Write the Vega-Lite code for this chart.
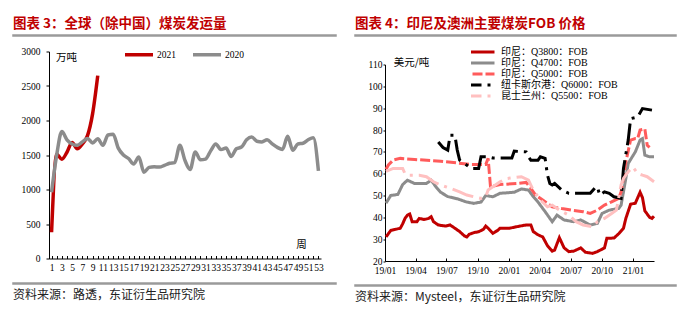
{
  "$schema": "https://vega.github.io/schema/vega-lite/v6.json",
  "background": "white",
  "padding": {"left": 12, "top": 15, "right": 0, "bottom": 0},
  "config": {
    "view": {"stroke": null},
    "font": "Liberation Serif",
    "axis": {"labelFont": "Liberation Serif", "labelFontSize": 9.5, "labelColor": "#000", "domainColor": "#000", "tickColor": "#000", "grid": false, "titleColor": "#000", "titleFontWeight": "normal"},
    "legend": {"labelFont": "Liberation Serif, Noto Sans CJK SC", "labelColor": "#000", "labelFontSize": 9.5},
    "title": {"anchor": "start", "frame": "group"}
  },
  "resolve": {"scale": {"color": "independent", "strokeDash": "independent", "x": "independent", "y": "independent"}, "legend": {"color": "independent", "strokeDash": "independent"}},
  "hconcat": [
    {
      "spacing": 9.5,
      "resolve": {"scale": {"color": "independent"}, "legend": {"color": "independent"}},
      "vconcat": [
        {
          "width": 323, "height": 1,
          "view": {"stroke": "#9a9a9a", "strokeWidth": 1.5},
          "title": {"text": "图表 3：全球（除中国）煤炭发运量", "anchor": "start", "offset": 5, "fontSize": 13.5, "font": "Noto Sans CJK SC", "fontWeight": "bold", "color": "#C00000"},
          "data": {"values": []},
          "mark": {"type": "text", "text": ""}
        },
        {
          "spacing": 5,
          "resolve": {"scale": {"color": "independent"}, "legend": {"color": "independent"}},
          "hconcat": [
            {"width": 1, "height": 1, "data": {"values": []}, "mark": {"type": "text", "text": ""}},
            {
              "width": 272, "height": 207,
              "data": {"values": [
                {"week": 1, "year": "2021", "v": 380}, {"week": 2, "year": "2021", "v": 1510}, {"week": 3, "year": "2021", "v": 1440}, {"week": 4, "year": "2021", "v": 1540}, {"week": 5, "year": "2021", "v": 1680}, {"week": 6, "year": "2021", "v": 1590}, {"week": 7, "year": "2021", "v": 1660}, {"week": 8, "year": "2021", "v": 1780}, {"week": 9, "year": "2021", "v": 2100}, {"week": 10, "year": "2021", "v": 2650},
                {"week": 1, "year": "2020", "v": 960}, {"week": 2, "year": "2020", "v": 1500}, {"week": 3, "year": "2020", "v": 1840}, {"week": 4, "year": "2020", "v": 1720}, {"week": 5, "year": "2020", "v": 1660}, {"week": 6, "year": "2020", "v": 1640}, {"week": 7, "year": "2020", "v": 1690}, {"week": 8, "year": "2020", "v": 1740}, {"week": 9, "year": "2020", "v": 1675}, {"week": 10, "year": "2020", "v": 1735},
                {"week": 11, "year": "2020", "v": 1640}, {"week": 12, "year": "2020", "v": 1790}, {"week": 13, "year": "2020", "v": 1800}, {"week": 14, "year": "2020", "v": 1600}, {"week": 15, "year": "2020", "v": 1500}, {"week": 16, "year": "2020", "v": 1450}, {"week": 17, "year": "2020", "v": 1370}, {"week": 18, "year": "2020", "v": 1470}, {"week": 19, "year": "2020", "v": 1250}, {"week": 20, "year": "2020", "v": 1320},
                {"week": 21, "year": "2020", "v": 1330}, {"week": 22, "year": "2020", "v": 1325}, {"week": 23, "year": "2020", "v": 1350}, {"week": 24, "year": "2020", "v": 1380}, {"week": 25, "year": "2020", "v": 1390}, {"week": 26, "year": "2020", "v": 1640}, {"week": 27, "year": "2020", "v": 1420}, {"week": 28, "year": "2020", "v": 1290}, {"week": 29, "year": "2020", "v": 1545}, {"week": 30, "year": "2020", "v": 1430},
                {"week": 31, "year": "2020", "v": 1440}, {"week": 32, "year": "2020", "v": 1560}, {"week": 33, "year": "2020", "v": 1660}, {"week": 34, "year": "2020", "v": 1580}, {"week": 35, "year": "2020", "v": 1600}, {"week": 36, "year": "2020", "v": 1480}, {"week": 37, "year": "2020", "v": 1590}, {"week": 38, "year": "2020", "v": 1615}, {"week": 39, "year": "2020", "v": 1720}, {"week": 40, "year": "2020", "v": 1760},
                {"week": 41, "year": "2020", "v": 1700}, {"week": 42, "year": "2020", "v": 1690}, {"week": 43, "year": "2020", "v": 1720}, {"week": 44, "year": "2020", "v": 1660}, {"week": 45, "year": "2020", "v": 1610}, {"week": 46, "year": "2020", "v": 1580}, {"week": 47, "year": "2020", "v": 1770}, {"week": 48, "year": "2020", "v": 1570}, {"week": 49, "year": "2020", "v": 1660}, {"week": 50, "year": "2020", "v": 1670},
                {"week": 51, "year": "2020", "v": 1720}, {"week": 52, "year": "2020", "v": 1750}, {"week": 53, "year": "2020", "v": 1270}
              ]},
              "mark": {"type": "line", "interpolate": "monotone", "strokeWidth": 3.5},
              "encoding": {
                "x": {"field": "week", "type": "ordinal", "scale": {"type": "point", "padding": 0.5},
                  "axis": {"title": "周", "titleX": 252, "titleY": -14, "titleFont": "Noto Sans CJK SC", "titleFontSize": 10.5, "titleAlign": "center", "titleBaseline": "middle", "labelAngle": 0, "labelOverlap": false, "labelExpr": "datum.value % 2 == 1 ? datum.label : ''", "tickSize": -3, "labelPadding": 7}},
                "y": {"field": "v", "type": "quantitative", "scale": {"domain": [0, 3000]},
                  "axis": {"values": [0, 500, 1000, 1500, 2000, 2500, 3000], "format": "d", "title": "万吨", "titleAngle": 0, "titleX": 17, "titleY": 6, "titleFont": "Noto Sans CJK SC", "titleFontSize": 10.5, "titleAlign": "center", "titleBaseline": "middle", "tickSize": 3, "labelPadding": 6, "minExtent": 30}},
                "color": {"field": "year", "type": "nominal", "scale": {"domain": ["2021", "2020"], "range": ["#C00000", "#8C8C8C"]},
                  "legend": {"orient": "none", "legendX": 84.5, "legendY": -2.5, "direction": "horizontal", "title": null, "symbolType": "M-4,0H4", "symbolSize": 49, "symbolStrokeWidth": 3.5, "labelOffset": 12.5, "columnPadding": 9}}
              }
            }
          ]
        },
        {
          "width": 323, "height": 1,
          "view": {"stroke": "#9a9a9a", "strokeWidth": 1.5},
          "title": {"text": "资料来源：路透，东证衍生品研究院", "orient": "bottom", "anchor": "start", "offset": 6, "fontSize": 12, "font": "Noto Sans CJK SC", "fontWeight": "normal", "color": "#222"},
          "data": {"values": []},
          "mark": {"type": "text", "text": ""}
        }
      ]
    },
    {
      "spacing": 9.5,
      "resolve": {"scale": {"color": "independent", "strokeDash": "independent"}, "legend": {"color": "independent", "strokeDash": "independent"}},
      "vconcat": [
        {
          "width": 321, "height": 1,
          "view": {"stroke": "#9a9a9a", "strokeWidth": 1.5},
          "title": {"text": "图表 4：印尼及澳洲主要煤炭FOB 价格", "anchor": "start", "offset": 5, "fontSize": 13.5, "font": "Noto Sans CJK SC", "fontWeight": "bold", "color": "#C00000"},
          "data": {"values": []},
          "mark": {"type": "text", "text": ""}
        },
        {
          "spacing": 9,
          "resolve": {"scale": {"color": "independent", "strokeDash": "independent"}, "legend": {"color": "independent", "strokeDash": "independent"}},
          "hconcat": [
            {"width": 1, "height": 1, "data": {"values": []}, "mark": {"type": "text", "text": ""}},
            {
              "width": 269, "height": 196.5,
              "data": {"values": [
                {"d": "2019-01-04", "s": "印尼：Q3800：FOB", "v": 31}, {"d": "2019-01-11", "s": "印尼：Q3800：FOB", "v": 32.5}, {"d": "2019-01-18", "s": "印尼：Q3800：FOB", "v": 34}, {"d": "2019-02-01", "s": "印尼：Q3800：FOB", "v": 34.5}, {"d": "2019-02-15", "s": "印尼：Q3800：FOB", "v": 35}, {"d": "2019-02-22", "s": "印尼：Q3800：FOB", "v": 37}, {"d": "2019-03-01", "s": "印尼：Q3800：FOB", "v": 39.5}, {"d": "2019-03-08", "s": "印尼：Q3800：FOB", "v": 41}, {"d": "2019-03-15", "s": "印尼：Q3800：FOB", "v": 41.5}, {"d": "2019-03-22", "s": "印尼：Q3800：FOB", "v": 38},
                {"d": "2019-04-05", "s": "印尼：Q3800：FOB", "v": 38}, {"d": "2019-04-12", "s": "印尼：Q3800：FOB", "v": 39.5}, {"d": "2019-04-26", "s": "印尼：Q3800：FOB", "v": 39}, {"d": "2019-05-10", "s": "印尼：Q3800：FOB", "v": 39.5}, {"d": "2019-05-17", "s": "印尼：Q3800：FOB", "v": 40.3}, {"d": "2019-05-24", "s": "印尼：Q3800：FOB", "v": 38}, {"d": "2019-06-07", "s": "印尼：Q3800：FOB", "v": 36.5}, {"d": "2019-06-28", "s": "印尼：Q3800：FOB", "v": 36}, {"d": "2019-07-12", "s": "印尼：Q3800：FOB", "v": 36.5}, {"d": "2019-07-26", "s": "印尼：Q3800：FOB", "v": 35},
                {"d": "2019-08-09", "s": "印尼：Q3800：FOB", "v": 33.5}, {"d": "2019-08-23", "s": "印尼：Q3800：FOB", "v": 31.5}, {"d": "2019-08-30", "s": "印尼：Q3800：FOB", "v": 31}, {"d": "2019-09-06", "s": "印尼：Q3800：FOB", "v": 32.2}, {"d": "2019-09-20", "s": "印尼：Q3800：FOB", "v": 33}, {"d": "2019-10-04", "s": "印尼：Q3800：FOB", "v": 33.4}, {"d": "2019-10-18", "s": "印尼：Q3800：FOB", "v": 34.5}, {"d": "2019-10-25", "s": "印尼：Q3800：FOB", "v": 36}, {"d": "2019-11-01", "s": "印尼：Q3800：FOB", "v": 35}, {"d": "2019-11-15", "s": "印尼：Q3800：FOB", "v": 32.7},
                {"d": "2019-11-29", "s": "印尼：Q3800：FOB", "v": 34}, {"d": "2019-12-06", "s": "印尼：Q3800：FOB", "v": 35}, {"d": "2020-01-03", "s": "印尼：Q3800：FOB", "v": 35}, {"d": "2020-01-24", "s": "印尼：Q3800：FOB", "v": 35.7}, {"d": "2020-02-21", "s": "印尼：Q3800：FOB", "v": 36.5}, {"d": "2020-03-06", "s": "印尼：Q3800：FOB", "v": 36.5}, {"d": "2020-03-13", "s": "印尼：Q3800：FOB", "v": 33.5}, {"d": "2020-03-27", "s": "印尼：Q3800：FOB", "v": 32}, {"d": "2020-04-10", "s": "印尼：Q3800：FOB", "v": 31}, {"d": "2020-04-24", "s": "印尼：Q3800：FOB", "v": 27},
                {"d": "2020-05-08", "s": "印尼：Q3800：FOB", "v": 24.5}, {"d": "2020-05-15", "s": "印尼：Q3800：FOB", "v": 25}, {"d": "2020-05-29", "s": "印尼：Q3800：FOB", "v": 30.7}, {"d": "2020-06-12", "s": "印尼：Q3800：FOB", "v": 26}, {"d": "2020-06-26", "s": "印尼：Q3800：FOB", "v": 24.3}, {"d": "2020-07-10", "s": "印尼：Q3800：FOB", "v": 24.5}, {"d": "2020-07-31", "s": "印尼：Q3800：FOB", "v": 26}, {"d": "2020-08-14", "s": "印尼：Q3800：FOB", "v": 24}, {"d": "2020-09-04", "s": "印尼：Q3800：FOB", "v": 23.5}, {"d": "2020-09-18", "s": "印尼：Q3800：FOB", "v": 24.3},
                {"d": "2020-10-09", "s": "印尼：Q3800：FOB", "v": 26}, {"d": "2020-10-16", "s": "印尼：Q3800：FOB", "v": 30.4}, {"d": "2020-11-06", "s": "印尼：Q3800：FOB", "v": 30.5}, {"d": "2020-11-20", "s": "印尼：Q3800：FOB", "v": 32.5}, {"d": "2020-12-04", "s": "印尼：Q3800：FOB", "v": 35}, {"d": "2020-12-11", "s": "印尼：Q3800：FOB", "v": 39.5}, {"d": "2020-12-25", "s": "印尼：Q3800：FOB", "v": 46}, {"d": "2021-01-08", "s": "印尼：Q3800：FOB", "v": 46.5}, {"d": "2021-01-22", "s": "印尼：Q3800：FOB", "v": 51.5}, {"d": "2021-01-29", "s": "印尼：Q3800：FOB", "v": 49},
                {"d": "2021-02-05", "s": "印尼：Q3800：FOB", "v": 43}, {"d": "2021-02-19", "s": "印尼：Q3800：FOB", "v": 40}, {"d": "2021-02-26", "s": "印尼：Q3800：FOB", "v": 39.5}, {"d": "2021-03-04", "s": "印尼：Q3800：FOB", "v": 40.5},

                {"d": "2019-01-04", "s": "印尼：Q4700：FOB", "v": 46.5}, {"d": "2019-01-18", "s": "印尼：Q4700：FOB", "v": 50}, {"d": "2019-02-08", "s": "印尼：Q4700：FOB", "v": 50.5}, {"d": "2019-02-22", "s": "印尼：Q4700：FOB", "v": 55}, {"d": "2019-03-08", "s": "印尼：Q4700：FOB", "v": 57}, {"d": "2019-03-29", "s": "印尼：Q4700：FOB", "v": 55.5}, {"d": "2019-05-03", "s": "印尼：Q4700：FOB", "v": 55.5}, {"d": "2019-05-17", "s": "印尼：Q4700：FOB", "v": 57}, {"d": "2019-05-31", "s": "印尼：Q4700：FOB", "v": 54}, {"d": "2019-06-14", "s": "印尼：Q4700：FOB", "v": 51.5},
                {"d": "2019-07-05", "s": "印尼：Q4700：FOB", "v": 49.5}, {"d": "2019-08-02", "s": "印尼：Q4700：FOB", "v": 48.5}, {"d": "2019-08-30", "s": "印尼：Q4700：FOB", "v": 47}, {"d": "2019-09-20", "s": "印尼：Q4700：FOB", "v": 46.4}, {"d": "2019-10-11", "s": "印尼：Q4700：FOB", "v": 47}, {"d": "2019-10-25", "s": "印尼：Q4700：FOB", "v": 50}, {"d": "2019-11-15", "s": "印尼：Q4700：FOB", "v": 49.4}, {"d": "2019-12-06", "s": "印尼：Q4700：FOB", "v": 51}, {"d": "2020-01-17", "s": "印尼：Q4700：FOB", "v": 51.5}, {"d": "2020-02-07", "s": "印尼：Q4700：FOB", "v": 53},
                {"d": "2020-02-28", "s": "印尼：Q4700：FOB", "v": 52.5}, {"d": "2020-03-13", "s": "印尼：Q4700：FOB", "v": 49.5}, {"d": "2020-03-27", "s": "印尼：Q4700：FOB", "v": 47}, {"d": "2020-04-17", "s": "印尼：Q4700：FOB", "v": 42.6}, {"d": "2020-05-08", "s": "印尼：Q4700：FOB", "v": 38}, {"d": "2020-05-22", "s": "印尼：Q4700：FOB", "v": 41}, {"d": "2020-06-12", "s": "印尼：Q4700：FOB", "v": 38.8}, {"d": "2020-07-10", "s": "印尼：Q4700：FOB", "v": 38}, {"d": "2020-07-31", "s": "印尼：Q4700：FOB", "v": 38.8}, {"d": "2020-08-28", "s": "印尼：Q4700：FOB", "v": 36.5},
                {"d": "2020-09-18", "s": "印尼：Q4700：FOB", "v": 37.2}, {"d": "2020-10-02", "s": "印尼：Q4700：FOB", "v": 41.8}, {"d": "2020-10-23", "s": "印尼：Q4700：FOB", "v": 43.3}, {"d": "2020-11-20", "s": "印尼：Q4700：FOB", "v": 44.1}, {"d": "2020-11-27", "s": "印尼：Q4700：FOB", "v": 45.6}, {"d": "2020-12-11", "s": "印尼：Q4700：FOB", "v": 57.8}, {"d": "2020-12-18", "s": "印尼：Q4700：FOB", "v": 64.7}, {"d": "2021-01-08", "s": "印尼：Q4700：FOB", "v": 70}, {"d": "2021-01-22", "s": "印尼：Q4700：FOB", "v": 75.4}, {"d": "2021-01-29", "s": "印尼：Q4700：FOB", "v": 76},
                {"d": "2021-02-05", "s": "印尼：Q4700：FOB", "v": 68.5}, {"d": "2021-02-19", "s": "印尼：Q4700：FOB", "v": 67.7}, {"d": "2021-03-04", "s": "印尼：Q4700：FOB", "v": 67.7},

                {"d": "2019-01-04", "s": "印尼：Q5000：FOB", "v": 62}, {"d": "2019-01-11", "s": "印尼：Q5000：FOB", "v": 64}, {"d": "2019-01-25", "s": "印尼：Q5000：FOB", "v": 66.2}, {"d": "2019-02-15", "s": "印尼：Q5000：FOB", "v": 67}, {"d": "2019-03-29", "s": "印尼：Q5000：FOB", "v": 66.5}, {"d": "2019-06-14", "s": "印尼：Q5000：FOB", "v": 65.7}, {"d": "2019-09-13", "s": "印尼：Q5000：FOB", "v": 64.2}, {"d": "2019-10-25", "s": "印尼：Q5000：FOB", "v": 64.2}, {"d": "2019-11-01", "s": "印尼：Q5000：FOB", "v": 67}, {"d": "2019-11-08", "s": "印尼：Q5000：FOB", "v": 54},
                {"d": "2019-12-06", "s": "印尼：Q5000：FOB", "v": 55}, {"d": "2020-01-24", "s": "印尼：Q5000：FOB", "v": 55.5}, {"d": "2020-02-21", "s": "印尼：Q5000：FOB", "v": 56}, {"d": "2020-03-06", "s": "印尼：Q5000：FOB", "v": 53.3}, {"d": "2020-03-20", "s": "印尼：Q5000：FOB", "v": 50.2}, {"d": "2020-04-10", "s": "印尼：Q5000：FOB", "v": 47.9}, {"d": "2020-05-08", "s": "印尼：Q5000：FOB", "v": 44.8}, {"d": "2020-06-05", "s": "印尼：Q5000：FOB", "v": 44}, {"d": "2020-07-03", "s": "印尼：Q5000：FOB", "v": 43.3}, {"d": "2020-08-07", "s": "印尼：Q5000：FOB", "v": 42.6},
                {"d": "2020-08-28", "s": "印尼：Q5000：FOB", "v": 41.8}, {"d": "2020-09-18", "s": "印尼：Q5000：FOB", "v": 43.3}, {"d": "2020-10-09", "s": "印尼：Q5000：FOB", "v": 45.6}, {"d": "2020-10-30", "s": "印尼：Q5000：FOB", "v": 47.1}, {"d": "2020-11-20", "s": "印尼：Q5000：FOB", "v": 48.7}, {"d": "2020-11-27", "s": "印尼：Q5000：FOB", "v": 51.7}, {"d": "2020-12-11", "s": "印尼：Q5000：FOB", "v": 65.4}, {"d": "2020-12-25", "s": "印尼：Q5000：FOB", "v": 75.4}, {"d": "2021-01-08", "s": "印尼：Q5000：FOB", "v": 76.1}, {"d": "2021-01-15", "s": "印尼：Q5000：FOB", "v": 76.1},
                {"d": "2021-01-22", "s": "印尼：Q5000：FOB", "v": 80}, {"d": "2021-02-05", "s": "印尼：Q5000：FOB", "v": 80.5}, {"d": "2021-02-12", "s": "印尼：Q5000：FOB", "v": 73}, {"d": "2021-02-19", "s": "印尼：Q5000：FOB", "v": 72},

                {"d": "2019-06-07", "s": "纽卡斯尔港：Q6000：FOB", "v": 74.5}, {"d": "2019-06-21", "s": "纽卡斯尔港：Q6000：FOB", "v": 72}, {"d": "2019-07-05", "s": "纽卡斯尔港：Q6000：FOB", "v": 70.8}, {"d": "2019-07-12", "s": "纽卡斯尔港：Q6000：FOB", "v": 77.6}, {"d": "2019-07-26", "s": "纽卡斯尔港：Q6000：FOB", "v": 77.6}, {"d": "2019-08-02", "s": "纽卡斯尔港：Q6000：FOB", "v": 70.8}, {"d": "2019-08-09", "s": "纽卡斯尔港：Q6000：FOB", "v": 66.2}, {"d": "2019-08-23", "s": "纽卡斯尔港：Q6000：FOB", "v": 64.7}, {"d": "2019-09-13", "s": "纽卡斯尔港：Q6000：FOB", "v": 62.4}, {"d": "2019-10-04", "s": "纽卡斯尔港：Q6000：FOB", "v": 62.4},
                {"d": "2019-10-11", "s": "纽卡斯尔港：Q6000：FOB", "v": 67.7}, {"d": "2019-11-01", "s": "纽卡斯尔港：Q6000：FOB", "v": 67.7}, {"d": "2019-11-15", "s": "纽卡斯尔港：Q6000：FOB", "v": 67.2}, {"d": "2020-01-10", "s": "纽卡斯尔港：Q6000：FOB", "v": 67.2}, {"d": "2020-01-17", "s": "纽卡斯尔港：Q6000：FOB", "v": 70.3}, {"d": "2020-02-21", "s": "纽卡斯尔港：Q6000：FOB", "v": 70}, {"d": "2020-02-28", "s": "纽卡斯尔港：Q6000：FOB", "v": 67.7}, {"d": "2020-03-06", "s": "纽卡斯尔港：Q6000：FOB", "v": 66.2}, {"d": "2020-03-27", "s": "纽卡斯尔港：Q6000：FOB", "v": 66.2}, {"d": "2020-04-03", "s": "纽卡斯尔港：Q6000：FOB", "v": 67.7},
                {"d": "2020-04-17", "s": "纽卡斯尔港：Q6000：FOB", "v": 67}, {"d": "2020-04-24", "s": "纽卡斯尔港：Q6000：FOB", "v": 59.3}, {"d": "2020-05-01", "s": "纽卡斯尔港：Q6000：FOB", "v": 55.5}, {"d": "2020-05-08", "s": "纽卡斯尔港：Q6000：FOB", "v": 54.8}, {"d": "2020-05-15", "s": "纽卡斯尔港：Q6000：FOB", "v": 55.5}, {"d": "2020-06-05", "s": "纽卡斯尔港：Q6000：FOB", "v": 52.5}, {"d": "2020-06-26", "s": "纽卡斯尔港：Q6000：FOB", "v": 51}, {"d": "2020-08-28", "s": "纽卡斯尔港：Q6000：FOB", "v": 51}, {"d": "2020-09-11", "s": "纽卡斯尔港：Q6000：FOB", "v": 53.5}, {"d": "2020-09-18", "s": "纽卡斯尔港：Q6000：FOB", "v": 54},
                {"d": "2020-09-25", "s": "纽卡斯尔港：Q6000：FOB", "v": 50.2}, {"d": "2020-10-09", "s": "纽卡斯尔港：Q6000：FOB", "v": 51.7}, {"d": "2020-10-23", "s": "纽卡斯尔港：Q6000：FOB", "v": 51}, {"d": "2020-11-06", "s": "纽卡斯尔港：Q6000：FOB", "v": 49.4}, {"d": "2020-11-27", "s": "纽卡斯尔港：Q6000：FOB", "v": 48.7}, {"d": "2020-12-04", "s": "纽卡斯尔港：Q6000：FOB", "v": 62.4}, {"d": "2020-12-18", "s": "纽卡斯尔港：Q6000：FOB", "v": 75.4}, {"d": "2020-12-25", "s": "纽卡斯尔港：Q6000：FOB", "v": 85.2}, {"d": "2021-01-15", "s": "纽卡斯尔港：Q6000：FOB", "v": 86}, {"d": "2021-01-29", "s": "纽卡斯尔港：Q6000：FOB", "v": 89.8},
                {"d": "2021-02-26", "s": "纽卡斯尔港：Q6000：FOB", "v": 89.1},

                {"d": "2019-01-04", "s": "昆士兰州：Q5500：FOB", "v": 61}, {"d": "2019-01-25", "s": "昆士兰州：Q5500：FOB", "v": 62.4}, {"d": "2019-02-22", "s": "昆士兰州：Q5500：FOB", "v": 62.4}, {"d": "2019-03-01", "s": "昆士兰州：Q5500：FOB", "v": 60}, {"d": "2019-03-15", "s": "昆士兰州：Q5500：FOB", "v": 59.3}, {"d": "2019-04-12", "s": "昆士兰州：Q5500：FOB", "v": 59.3}, {"d": "2019-05-03", "s": "昆士兰州：Q5500：FOB", "v": 58.6}, {"d": "2019-05-24", "s": "昆士兰州：Q5500：FOB", "v": 56.3}, {"d": "2019-06-14", "s": "昆士兰州：Q5500：FOB", "v": 54.8}, {"d": "2019-07-12", "s": "昆士兰州：Q5500：FOB", "v": 53.3},
                {"d": "2019-08-09", "s": "昆士兰州：Q5500：FOB", "v": 51.7}, {"d": "2019-08-30", "s": "昆士兰州：Q5500：FOB", "v": 50.2}, {"d": "2019-09-20", "s": "昆士兰州：Q5500：FOB", "v": 49.4}, {"d": "2019-10-11", "s": "昆士兰州：Q5500：FOB", "v": 48.7}, {"d": "2019-10-25", "s": "昆士兰州：Q5500：FOB", "v": 49.4}, {"d": "2019-11-01", "s": "昆士兰州：Q5500：FOB", "v": 52.5}, {"d": "2019-11-15", "s": "昆士兰州：Q5500：FOB", "v": 54}, {"d": "2019-12-06", "s": "昆士兰州：Q5500：FOB", "v": 56.3}, {"d": "2019-12-27", "s": "昆士兰州：Q5500：FOB", "v": 57.8}, {"d": "2020-02-07", "s": "昆士兰州：Q5500：FOB", "v": 58.6},
                {"d": "2020-02-28", "s": "昆士兰州：Q5500：FOB", "v": 57}, {"d": "2020-03-13", "s": "昆士兰州：Q5500：FOB", "v": 52.5}, {"d": "2020-04-03", "s": "昆士兰州：Q5500：FOB", "v": 48}, {"d": "2020-04-24", "s": "昆士兰州：Q5500：FOB", "v": 44.8}, {"d": "2020-05-08", "s": "昆士兰州：Q5500：FOB", "v": 45.6}, {"d": "2020-05-29", "s": "昆士兰州：Q5500：FOB", "v": 43.3}, {"d": "2020-06-26", "s": "昆士兰州：Q5500：FOB", "v": 41}, {"d": "2020-07-17", "s": "昆士兰州：Q5500：FOB", "v": 38}, {"d": "2020-08-07", "s": "昆士兰州：Q5500：FOB", "v": 36.5}, {"d": "2020-09-04", "s": "昆士兰州：Q5500：FOB", "v": 35.7},
                {"d": "2020-09-18", "s": "昆士兰州：Q5500：FOB", "v": 38}, {"d": "2020-10-09", "s": "昆士兰州：Q5500：FOB", "v": 39.5}, {"d": "2020-10-30", "s": "昆士兰州：Q5500：FOB", "v": 41.8}, {"d": "2020-11-13", "s": "昆士兰州：Q5500：FOB", "v": 43.3}, {"d": "2020-11-27", "s": "昆士兰州：Q5500：FOB", "v": 54.8}, {"d": "2020-12-04", "s": "昆士兰州：Q5500：FOB", "v": 57.8}, {"d": "2020-12-18", "s": "昆士兰州：Q5500：FOB", "v": 60.9}, {"d": "2021-01-01", "s": "昆士兰州：Q5500：FOB", "v": 63}, {"d": "2021-01-15", "s": "昆士兰州：Q5500：FOB", "v": 60.1}, {"d": "2021-01-29", "s": "昆士兰州：Q5500：FOB", "v": 59.3},
                {"d": "2021-02-12", "s": "昆士兰州：Q5500：FOB", "v": 58.6}, {"d": "2021-03-04", "s": "昆士兰州：Q5500：FOB", "v": 56.3}
              ]},
              "mark": {"type": "line", "strokeWidth": 3},
              "encoding": {
                "x": {"field": "d", "type": "temporal",
                  "scale": {"type": "utc", "domain": [{"year": 2019, "month": 1, "date": 1, "utc": true}, {"year": 2021, "month": 3, "date": 4, "utc": true}]},
                  "axis": {"title": null, "labelExpr": "utcFormat(datum.value, '%y/%m')", "labelOverlap": false, "labelFlush": false, "tickSize": -3, "labelPadding": 7,
                    "values": [{"year": 2019, "month": 1, "date": 1, "utc": true}, {"year": 2019, "month": 4, "date": 1, "utc": true}, {"year": 2019, "month": 7, "date": 1, "utc": true}, {"year": 2019, "month": 10, "date": 1, "utc": true}, {"year": 2020, "month": 1, "date": 1, "utc": true}, {"year": 2020, "month": 4, "date": 1, "utc": true}, {"year": 2020, "month": 7, "date": 1, "utc": true}, {"year": 2020, "month": 10, "date": 1, "utc": true}, {"year": 2021, "month": 1, "date": 1, "utc": true}]}},
                "y": {"field": "v", "type": "quantitative", "scale": {"domain": [20, 110]},
                  "axis": {"values": [20, 30, 40, 50, 60, 70, 80, 90, 100, 110], "title": "美元/吨", "titleAngle": 0, "titleX": 26, "titleY": -2, "titleFont": "Noto Sans CJK SC", "titleFontSize": 10.5, "titleAlign": "center", "titleBaseline": "middle", "tickSize": 2, "labelPadding": 1, "minExtent": 20}},
                "color": {"field": "s", "type": "nominal",
                  "scale": {"domain": ["印尼：Q3800：FOB", "印尼：Q4700：FOB", "印尼：Q5000：FOB", "纽卡斯尔港：Q6000：FOB", "昆士兰州：Q5500：FOB"], "range": ["#C00000", "#8C8C8C", "#FF5B5B", "#000000", "#FFC0C0"]},
                  "legend": {"orient": "none", "legendX": 86, "legendY": -18, "direction": "vertical", "title": null, "symbolType": "M-4,0H4", "symbolSize": 76.5625, "symbolStrokeWidth": 3, "labelOffset": 18, "rowPadding": 0, "clipHeight": 11, "labelFontSize": 10}},
                "strokeDash": {"field": "s", "type": "nominal",
                  "scale": {"domain": ["印尼：Q3800：FOB", "印尼：Q4700：FOB", "印尼：Q5000：FOB", "纽卡斯尔港：Q6000：FOB", "昆士兰州：Q5500：FOB"], "range": [[1, 0], [1, 0], [10, 3], [22, 6, 3, 6], [22, 6, 3, 6]]},
                  "legend": {"orient": "none", "legendX": 86, "legendY": -18, "direction": "vertical", "title": null, "symbolType": "M-4,0H4", "symbolSize": 76.5625, "symbolStrokeWidth": 3, "labelOffset": 18, "rowPadding": 0, "clipHeight": 11, "labelFontSize": 10}}
              }
            }
          ]
        },
        {
          "width": 321, "height": 1,
          "view": {"stroke": "#9a9a9a", "strokeWidth": 1.5},
          "title": {"text": "资料来源：Mysteel，东证衍生品研究院", "orient": "bottom", "anchor": "start", "offset": 6, "fontSize": 12, "font": "Noto Sans CJK SC", "fontWeight": "normal", "color": "#222"},
          "data": {"values": []},
          "mark": {"type": "text", "text": ""}
        }
      ]
    }
  ],
  "spacing": 17
}
